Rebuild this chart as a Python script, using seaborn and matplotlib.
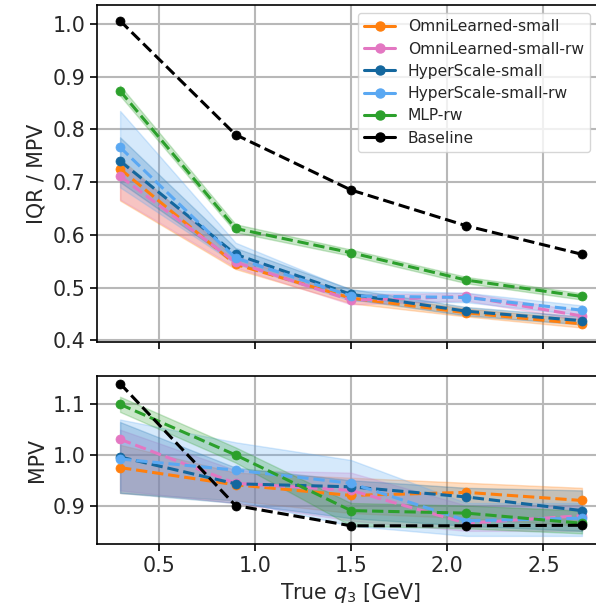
import matplotlib
matplotlib.use("Agg")
import matplotlib.pyplot as plt
from matplotlib.lines import Line2D
import seaborn as sns

# True q3 bins [GeV]
q3 = [0.3, 0.9, 1.5, 2.1, 2.7]

labels = ["OmniLearned-small", "OmniLearned-small-rw", "HyperScale-small",
          "HyperScale-small-rw", "MLP-rw", "Baseline"]
colors = ["#ff7f0e", "#e377c2", "#14679e", "#5aa8f2", "#2ca02c", "#000000"]

# IQR / MPV (central value, band low, band high)
iqr_omni = [0.725, 0.544, 0.480, 0.452, 0.431]
iqr_omni_lo = [0.665, 0.535, 0.470, 0.445, 0.424]
iqr_omni_hi = [0.745, 0.555, 0.490, 0.460, 0.440]
iqr_omni_rw = [0.711, 0.548, 0.476, 0.483, 0.446]
iqr_omni_rw_lo = [0.667, 0.538, 0.468, 0.475, 0.438]
iqr_omni_rw_hi = [0.740, 0.560, 0.487, 0.490, 0.455]
iqr_hyper = [0.740, 0.563, 0.487, 0.455, 0.437]
iqr_hyper_lo = [0.700, 0.547, 0.478, 0.447, 0.430]
iqr_hyper_hi = [0.785, 0.575, 0.497, 0.463, 0.445]
iqr_hyper_rw = [0.766, 0.556, 0.484, 0.481, 0.457]
iqr_hyper_rw_lo = [0.690, 0.545, 0.475, 0.472, 0.448]
iqr_hyper_rw_hi = [0.835, 0.585, 0.495, 0.490, 0.466]
iqr_mlp = [0.873, 0.612, 0.566, 0.514, 0.483]
iqr_mlp_lo = [0.864, 0.605, 0.560, 0.508, 0.477]
iqr_mlp_hi = [0.883, 0.620, 0.572, 0.520, 0.489]
iqr_base = [1.006, 0.790, 0.685, 0.617, 0.563]

# MPV (central value, band low, band high)
mpv_omni = [0.975, 0.941, 0.920, 0.926, 0.910]
mpv_omni_lo = [0.925, 0.910, 0.885, 0.875, 0.860]
mpv_omni_hi = [1.020, 0.965, 0.955, 0.945, 0.935]
mpv_omni_rw = [1.031, 0.944, 0.930, 0.865, 0.880]
mpv_omni_rw_lo = [0.930, 0.905, 0.870, 0.850, 0.850]
mpv_omni_rw_hi = [1.050, 0.970, 0.965, 0.900, 0.900]
mpv_hyper = [0.996, 0.943, 0.937, 0.917, 0.890]
mpv_hyper_lo = [0.925, 0.905, 0.875, 0.860, 0.850]
mpv_hyper_hi = [1.065, 0.975, 0.950, 0.935, 0.930]
mpv_hyper_rw = [0.992, 0.970, 0.944, 0.870, 0.875]
mpv_hyper_rw_lo = [0.925, 0.910, 0.860, 0.840, 0.840]
mpv_hyper_rw_hi = [1.070, 1.025, 0.990, 0.905, 0.905]
mpv_mlp = [1.100, 1.000, 0.890, 0.885, 0.865]
mpv_mlp_lo = [1.085, 0.985, 0.860, 0.855, 0.845]
mpv_mlp_hi = [1.115, 1.015, 0.905, 0.900, 0.890]
mpv_base = [1.141, 0.900, 0.860, 0.860, 0.861]

top_series = [(iqr_omni, iqr_omni_lo, iqr_omni_hi),
              (iqr_omni_rw, iqr_omni_rw_lo, iqr_omni_rw_hi),
              (iqr_hyper, iqr_hyper_lo, iqr_hyper_hi),
              (iqr_hyper_rw, iqr_hyper_rw_lo, iqr_hyper_rw_hi),
              (iqr_mlp, iqr_mlp_lo, iqr_mlp_hi),
              (iqr_base, None, None)]
bot_series = [(mpv_omni, mpv_omni_lo, mpv_omni_hi),
              (mpv_omni_rw, mpv_omni_rw_lo, mpv_omni_rw_hi),
              (mpv_hyper, mpv_hyper_lo, mpv_hyper_hi),
              (mpv_hyper_rw, mpv_hyper_rw_lo, mpv_hyper_rw_hi),
              (mpv_mlp, mpv_mlp_lo, mpv_mlp_hi),
              (mpv_base, None, None)]

sns.set_theme(style="ticks")
plt.rcParams["font.family"] = ["DejaVu Sans"]
plt.rcParams["mathtext.fontset"] = "dejavusans"

FS = 14.8
W, H = 596, 610
fig = plt.figure(figsize=(W / 100, H / 100), dpi=100)
ax_top = fig.add_axes([97 / W, 1 - 342 / H, (605 - 97) / W, 337 / H])
ax_bot = fig.add_axes([97 / W, 1 - 544 / H, (605 - 97) / W, 168 / H], sharex=ax_top)


def draw(ax, series):
    for (mid, lo, hi), c, lab in zip(series, colors, labels):
        if lo is not None:
            ax.fill_between(q3, lo, hi, color=c, alpha=0.25, linewidth=1)
        sns.lineplot(x=q3, y=mid, ax=ax, color=c, marker="o", linestyle="--",
                     linewidth=2.2, markersize=6.5, markeredgecolor=c,
                     markeredgewidth=0.5, label=None, legend=False)
    ax.grid(True, color="#b8b8b8", linewidth=1.5)
    ax.set_axisbelow(True)
    for s in ax.spines.values():
        s.set_color("black")
        s.set_linewidth(1.2)
    ax.tick_params(axis="both", labelsize=FS, length=5, width=1.2,
                   color="black", direction="out")


draw(ax_top, top_series)
draw(ax_bot, bot_series)

ax_top.set_xlim(0.18, 2.82)
ax_top.set_ylim(0.3966, 1.036)
ax_bot.set_ylim(0.824, 1.156)
ax_top.set_yticks([0.4, 0.5, 0.6, 0.7, 0.8, 0.9, 1.0])
ax_bot.set_yticks([0.9, 1.0, 1.1])
ax_bot.set_xticks([0.5, 1.0, 1.5, 2.0, 2.5])
plt.setp(ax_top.get_xticklabels(), visible=False)

ax_top.set_ylabel("IQR / MPV", fontsize=FS)
ax_bot.set_ylabel("MPV", fontsize=FS)
ax_bot.set_xlabel("True $q_3$ [GeV]", fontsize=FS)
ax_top.set_xlabel("")

handles = [Line2D([0], [0], color=c, marker="o", linestyle="-", linewidth=2.2,
                  markersize=6.5) for c in colors]
fig.legend(handles, labels, loc="upper right",
           bbox_to_anchor=(590 / W, 1 - 13 / H), fontsize=11.2,
           frameon=True, framealpha=0.8, edgecolor="#cccccc",
           borderaxespad=0, handlelength=2.0, labelspacing=0.47)

fig.savefig("out.png", dpi=100)
